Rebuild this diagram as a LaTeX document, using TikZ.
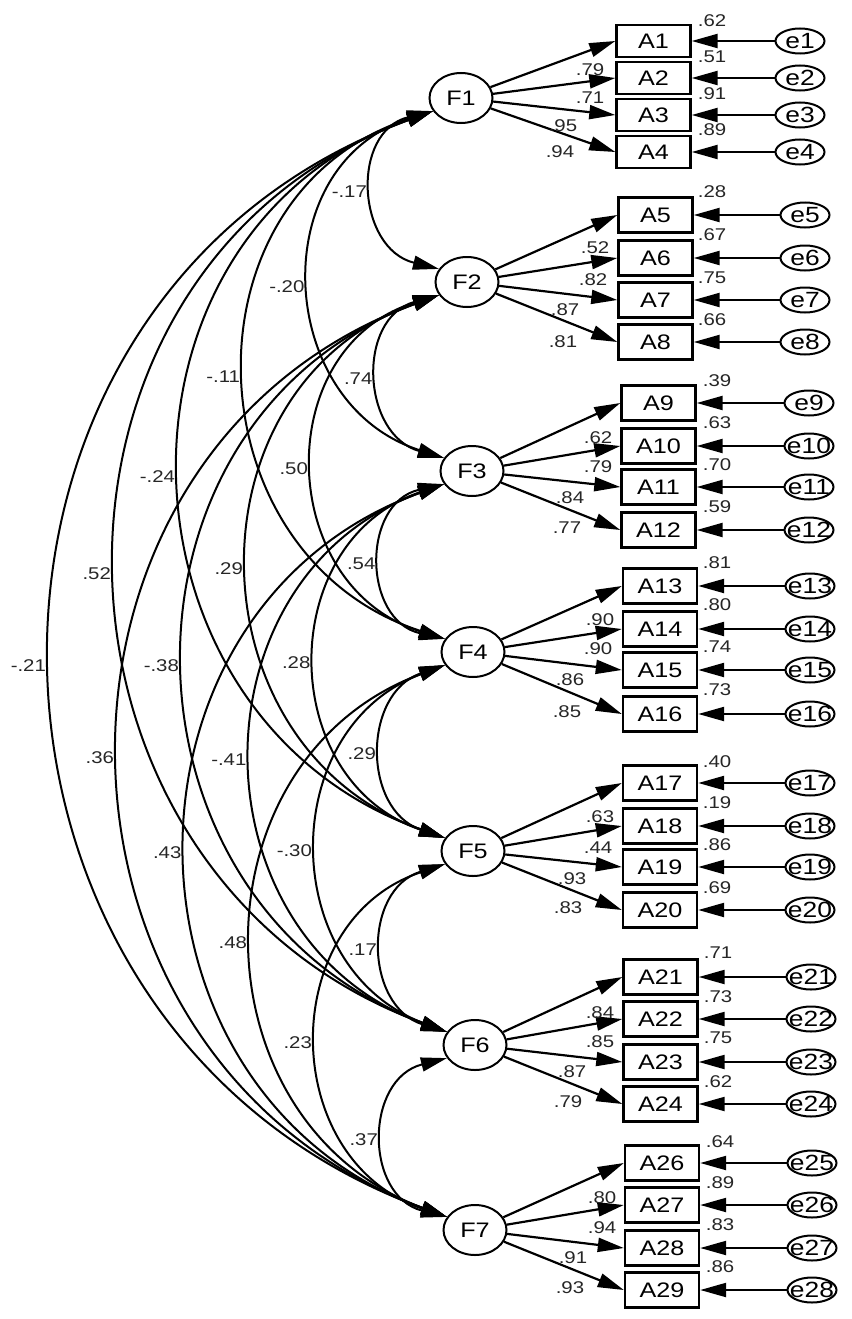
\documentclass[tikz,border=0pt]{standalone}
\usepackage{fontspec}
\setmainfont[FakeStretch=1.2]{Liberation Sans}
\usetikzlibrary{arrows.meta,shapes.geometric,calc}
\begin{document}
\begin{tikzpicture}[x=1pt,y=1pt,
  >={Triangle[length=26pt,width=14pt]},
  lat/.style={ellipse, draw, fill=white, line width=2pt, minimum width=63pt, minimum height=50pt, inner sep=0pt, font=\fontsize{21}{24}\selectfont},
  obs/.style={rectangle, draw, line width=2.4pt, minimum width=74pt, inner sep=0pt, font=\fontsize{21}{24}\selectfont},
  err/.style={ellipse, draw, line width=2pt, minimum width=49pt, minimum height=25pt, inner sep=0pt, font=\fontsize{22}{24}\selectfont},
  arr/.style={line width=2.2pt, ->},
  cov/.style={line width=2pt, <->},
  lab/.style={font=\fontsize{17}{18}\selectfont, text=black!85, inner sep=1pt},
]
\useasboundingbox (0,0) rectangle (851,-1319);
\def\FY{{98,282,471,652,851,1045,1230}}
% latent factors
\node[lat] (F1) at (461,-98) {F1};
\node[lat] (F2) at (467,-282) {F2};
\node[lat] (F3) at (472,-471) {F3};
\node[lat] (F4) at (473,-652) {F4};
\node[lat] (F5) at (473,-851) {F5};
\node[lat] (F6) at (475,-1045) {F6};
\node[lat] (F7) at (475,-1230) {F7};
% covariances
\foreach \i/\j/\lab in {1/2/-.17, 1/3/-.20, 1/4/-.11, 1/5/-.24, 1/6/.52, 1/7/-.21,
  2/3/.74, 2/4/.50, 2/5/.29, 2/6/-.38, 2/7/.36,
  3/4/.54, 3/5/.28, 3/6/-.41, 3/7/.43,
  4/5/.29, 4/6/-.30, 4/7/.48,
  5/6/.17, 5/7/.23,
  6/7/.37}{
  \pgfmathsetmacro\yi{\FY[\i-1]}
  \pgfmathsetmacro\yj{\FY[\j-1]}
  \pgfmathsetmacro\s{65*(\j-\i)-3}
  \pgfmathsetmacro\h{(\yj-\yi-25.6)/2}
  \pgfmathsetmacro\t{\s/\h}
  \pgfmathsetmacro\ang{2*atan(\t)}
  \pgfmathsetmacro\d{2*\h*(1+\t*\t)/3}
  \pgfmathsetmacro\ao{270-\ang}
  \pgfmathsetmacro\ai{90+\ang}
  \draw[cov] (F\i.205) .. controls ($(F\i.205)+(\ao:\d pt)$) and ($(F\j.155)+(\ai:\d pt)$) .. (F\j.155)
     node[lab, pos=0.5, anchor=east, xshift=-5pt, yshift=-2pt] (c\i\j) {\lab};
}
% observed variables, errors, paths
\foreach \n/\x/\y/\hh/\ex/\e/\f in {
  A1/653.5/41/32/800/e1/F1, A2/653.5/78/32/800/e2/F1, A3/653.5/115/32/800/e3/F1, A4/653.5/152/32/800/e4/F1,
  A5/655.5/215/35/805/e5/F2, A6/655.5/258/35/805/e6/F2, A7/655.5/300/35/805/e7/F2, A8/655.5/342/35/805/e8/F2,
  A9/658.5/403/35/809/e9/F3, A10/658.5/446/35/809/e10/F3, A11/658.5/487/35/809/e11/F3, A12/658.5/530/35/809/e12/F3,
  A13/660/586/35/810/e13/F4, A14/660/629/35/810/e14/F4, A15/660/670/35/810/e15/F4, A16/660/714/35/810/e16/F4,
  A17/660/783/35/810/e17/F5, A18/660/826/35/810/e18/F5, A19/660/867/35/810/e19/F5, A20/660/910/35/810/e20/F5,
  A21/660.5/977/35/811/e21/F6, A22/660.5/1019/35/811/e22/F6, A23/660.5/1062/35/811/e23/F6, A24/660.5/1104/35/811/e24/F6,
  A26/662/1163/35/812/e25/F7, A27/662/1205/35/812/e26/F7, A28/662/1248/35/812/e27/F7, A29/662/1290/35/812/e28/F7}{
  \node[obs, minimum height=\hh pt] (\n) at (\x,-\y) {\n};
  \node[err] (\e) at (\ex,-\y) {\makebox[0pt]{\e}};
  \draw[arr] (\e) -- (\n.east);
  \draw[arr] (\f) -- (\n.west);
}
% squared multiple correlations
\foreach \k/\x/\y/\v in {
  1/712/21/.62, 2/712/57/.51, 3/712/94/.91, 4/712/130/.89,
  5/712/192/.28, 6/712/235/.67, 7/712/278/.75, 8/712/320/.66,
  9/717/381/.39, 10/717/423/.63, 11/717/465/.70, 12/717/507/.59,
  13/717/563/.81, 14/717/605/.80, 15/717/647/.74, 16/717/690/.73,
  17/717/762/.40, 18/717/803/.19, 19/717/845/.86, 20/717/888/.69,
  21/718/953/.71, 22/718/997/.73, 23/718/1038/.75, 24/718/1082/.62,
  25/720/1142/.64, 26/720/1183/.89, 27/720/1225/.83, 28/720/1267/.86}{
  \node[lab] (r\k) at (\x,-\y) {\v};
}
% loadings
\foreach \k/\x/\y/\v in {
  1/590/70/.79, 2/590/98/.71, 3/563/126/.95, 4/560/152/.94,
  5/595/248/.52, 6/593/280/.82, 7/565/310/.87, 8/563/342/.81,
  9/598/438/.62, 10/598/467/.79, 11/570/498/.84, 12/567/528/.77,
  13/600/620/.90, 14/598/649/.90, 15/570/680/.86, 16/567/712/.85,
  17/600/817/.63, 18/598/848/.44, 19/572/879/.93, 20/568/908/.83,
  21/600/1013/.84, 22/600/1042/.85, 23/572/1072/.87, 24/568/1102/.79,
  25/602/1198/.80, 26/602/1228/.94, 27/573/1258/.91, 28/570/1288/.93}{
  \node[lab] (l\k) at (\x,-\y) {\v};
}
\end{tikzpicture}
\end{document}
